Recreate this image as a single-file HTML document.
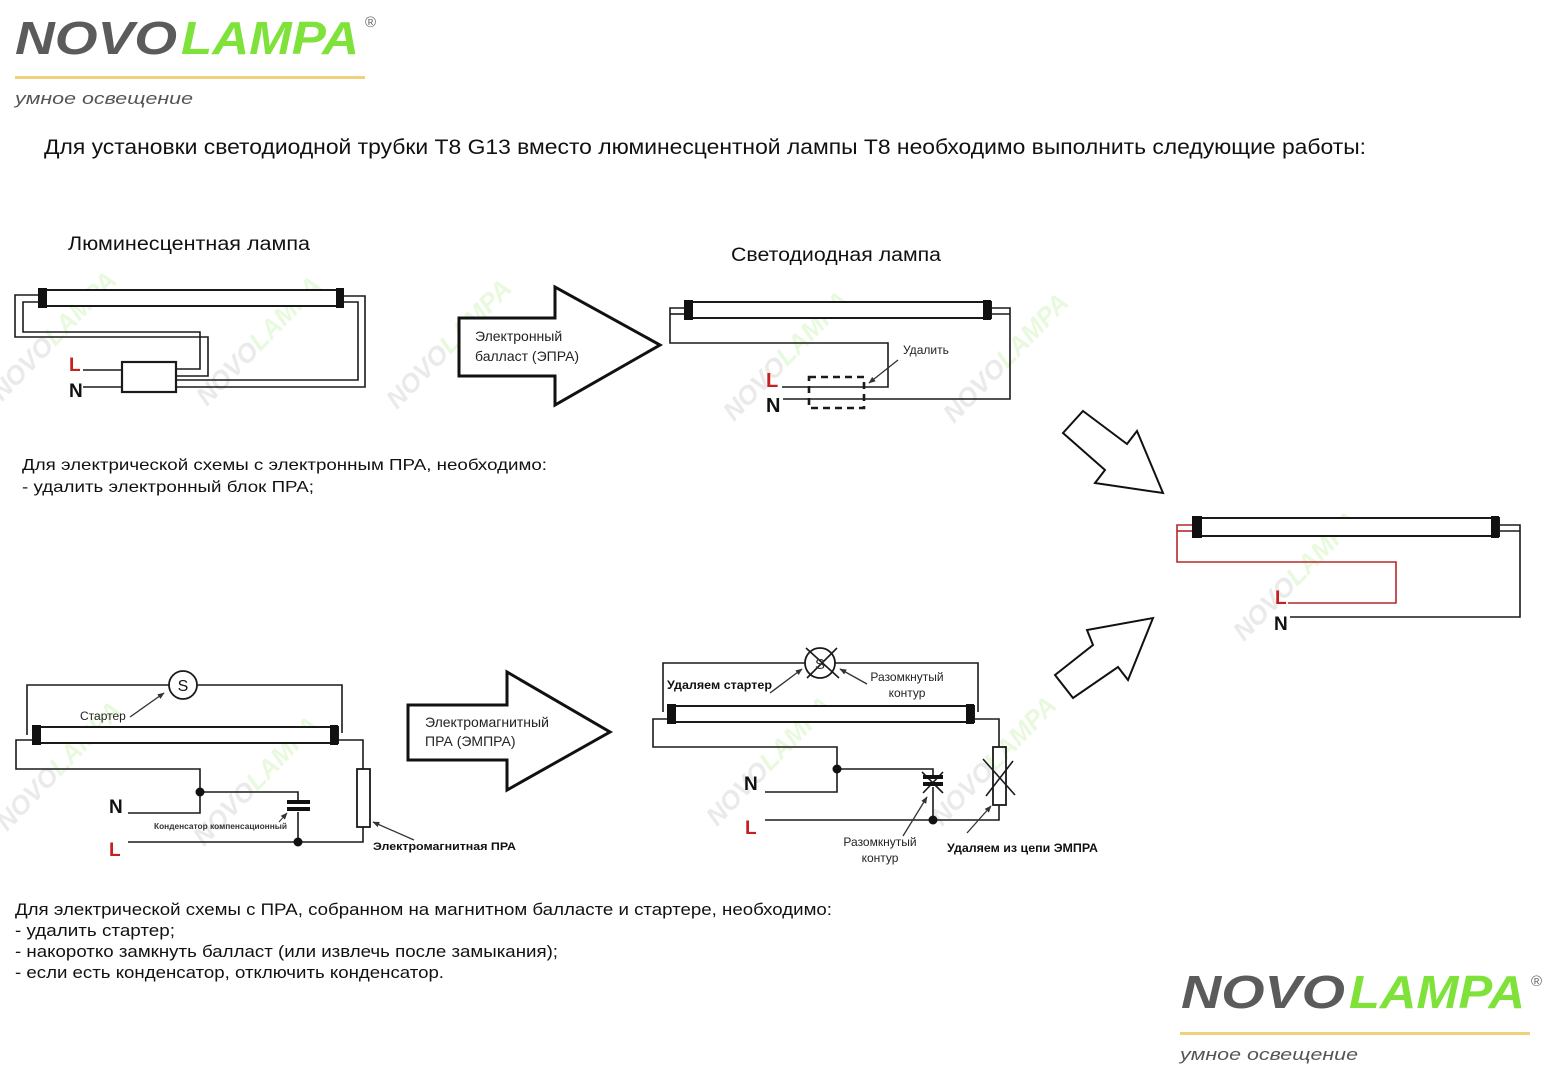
<!DOCTYPE html>
<html><head><meta charset="utf-8"><style>
html,body{margin:0;padding:0;background:#fff;}
svg{display:block;}
text{font-family:"Liberation Sans",Arial,sans-serif;}
</style></head><body>
<svg width="1548" height="1091" viewBox="0 0 1548 1091" xmlns="http://www.w3.org/2000/svg">
<defs>
<marker id="ah" viewBox="0 0 10 10" refX="9" refY="5" markerWidth="7" markerHeight="7" orient="auto-start-reverse" markerUnits="userSpaceOnUse">
<path d="M0,1 L10,5 L0,9 z" fill="#333"/>
</marker>
</defs>
<rect width="1548" height="1091" fill="#fff"/>

<!-- watermarks -->
<g font-size="26" font-weight="bold" font-style="italic" opacity="0.16" text-anchor="middle">
<g transform="translate(60,342) rotate(-46)"><text><tspan fill="#777">NOVO</tspan><tspan fill="#6fd62a">LAMPA</tspan></text></g>
<g transform="translate(265,347) rotate(-46)"><text><tspan fill="#777">NOVO</tspan><tspan fill="#6fd62a">LAMPA</tspan></text></g>
<g transform="translate(455,350) rotate(-46)"><text><tspan fill="#777">NOVO</tspan><tspan fill="#6fd62a">LAMPA</tspan></text></g>
<g transform="translate(792,362) rotate(-46)"><text><tspan fill="#777">NOVO</tspan><tspan fill="#6fd62a">LAMPA</tspan></text></g>
<g transform="translate(1012,364) rotate(-46)"><text><tspan fill="#777">NOVO</tspan><tspan fill="#6fd62a">LAMPA</tspan></text></g>
<g transform="translate(1302,582) rotate(-46)"><text><tspan fill="#777">NOVO</tspan><tspan fill="#6fd62a">LAMPA</tspan></text></g>
<g transform="translate(65,772) rotate(-46)"><text><tspan fill="#777">NOVO</tspan><tspan fill="#6fd62a">LAMPA</tspan></text></g>
<g transform="translate(262,787) rotate(-46)"><text><tspan fill="#777">NOVO</tspan><tspan fill="#6fd62a">LAMPA</tspan></text></g>
<g transform="translate(775,767) rotate(-46)"><text><tspan fill="#777">NOVO</tspan><tspan fill="#6fd62a">LAMPA</tspan></text></g>
<g transform="translate(1000,767) rotate(-46)"><text><tspan fill="#777">NOVO</tspan><tspan fill="#6fd62a">LAMPA</tspan></text></g>
</g>

<!-- top logo -->
<text x="15" y="54" font-size="46" font-weight="bold" font-style="italic" fill="#5b5b5b" textLength="162" lengthAdjust="spacingAndGlyphs">NOVO</text>
<text x="181" y="54" font-size="46" font-weight="bold" font-style="italic" fill="#7ee23a" textLength="178" lengthAdjust="spacingAndGlyphs">LAMPA</text>
<text x="365" y="27" font-size="15" fill="#666">®</text>
<rect x="15" y="76" width="350" height="3" fill="#f1d27a"/>
<text x="15" y="104" font-size="17" font-style="italic" fill="#555" textLength="178" lengthAdjust="spacingAndGlyphs">умное освещение</text>

<!-- bottom logo -->
<text x="1181" y="1008" font-size="46" font-weight="bold" font-style="italic" fill="#5b5b5b" textLength="164" lengthAdjust="spacingAndGlyphs">NOVO</text>
<text x="1349" y="1008" font-size="46" font-weight="bold" font-style="italic" fill="#7ee23a" textLength="176" lengthAdjust="spacingAndGlyphs">LAMPA</text>
<text x="1531" y="986" font-size="15" fill="#666">®</text>
<rect x="1180" y="1032" width="350" height="3" fill="#f1d27a"/>
<text x="1180" y="1060" font-size="17" font-style="italic" fill="#555" textLength="178" lengthAdjust="spacingAndGlyphs">умное освещение</text>

<!-- title -->
<text x="44" y="154" font-size="21" fill="#111" textLength="1322" lengthAdjust="spacingAndGlyphs">Для установки светодиодной трубки T8 G13 вместо люминесцентной лампы T8 необходимо выполнить следующие работы:</text>

<!-- headings -->
<text x="68" y="250" font-size="19" fill="#111" textLength="242" lengthAdjust="spacingAndGlyphs">Люминесцентная лампа</text>
<text x="731" y="261" font-size="19" fill="#111" textLength="210" lengthAdjust="spacingAndGlyphs">Светодиодная лампа</text>

<!-- paragraph 1 -->
<text x="22" y="470" font-size="16" fill="#111" textLength="525" lengthAdjust="spacingAndGlyphs">Для электрической схемы с электронным ПРА, необходимо:</text>
<text x="22" y="492" font-size="16" fill="#111" textLength="292" lengthAdjust="spacingAndGlyphs">- удалить электронный блок ПРА;</text>

<!-- paragraph 2 -->
<text x="15" y="915" font-size="17" fill="#111" textLength="817" lengthAdjust="spacingAndGlyphs">Для электрической схемы с ПРА, собранном на магнитном балласте и стартере, необходимо:</text>
<text x="15" y="936" font-size="17" fill="#111" textLength="160" lengthAdjust="spacingAndGlyphs">- удалить стартер;</text>
<text x="15" y="957" font-size="17" fill="#111" textLength="543" lengthAdjust="spacingAndGlyphs">- накоротко замкнуть балласт (или извлечь после замыкания);</text>
<text x="15" y="978" font-size="17" fill="#111" textLength="429" lengthAdjust="spacingAndGlyphs">- если есть конденсатор, отключить конденсатор.</text>

<!-- ========== top-left diagram ========== -->
<g fill="none" stroke="#1a1a1a" stroke-width="1.6">
<rect x="40" y="290" width="303" height="16" stroke-width="2" fill="#fff"/>
<polyline points="39,295 15,295 15,337 208,337 208,376 176,376"/>
<polyline points="39,302 23,302 23,332 200,332 200,369 176,369"/>
<polyline points="344,296 365,296 365,387 176,387"/>
<polyline points="344,302 358,302 358,380 176,380"/>
<rect x="122" y="362" width="54" height="30" stroke-width="2.2"/>
<line x1="83" y1="370" x2="122" y2="370"/>
<line x1="83" y1="387" x2="122" y2="387"/>
</g>
<rect x="38" y="288" width="9" height="20" fill="#111"/>
<rect x="336" y="288" width="8" height="20" fill="#111"/>
<text x="69" y="371" font-size="19" font-weight="bold" fill="#c42020">L</text>
<text x="69" y="397" font-size="19" font-weight="bold" fill="#111">N</text>

<!-- big arrow top -->
<polygon points="459,318 555,318 555,287 660,345 555,405 555,376 459,376" fill="#fff" stroke="#111" stroke-width="3" stroke-linejoin="miter"/>
<text x="475" y="341" font-size="14" fill="#222">Электронный</text>
<text x="475" y="361" font-size="14" fill="#222">балласт (ЭПРА)</text>

<!-- ========== top-middle diagram ========== -->
<g fill="none" stroke="#1a1a1a" stroke-width="1.6">
<rect x="686" y="302" width="305" height="16" stroke-width="2" fill="#fff"/>
<polyline points="685,308 670,308 670,343 888,343 888,387 782,387"/>
<polyline points="685,314 670,314"/>
<polyline points="991,308 1010,308 1010,399 783,399"/>
<polyline points="991,314 1010,314"/>
<rect x="809" y="377" width="55" height="31" stroke-width="2.6" stroke-dasharray="7,5"/>
<line x1="898" y1="360" x2="869" y2="383" stroke="#333" stroke-width="1.3" marker-end="url(#ah)"/>
</g>
<rect x="684" y="300" width="9" height="20" fill="#111"/>
<rect x="983" y="300" width="8" height="20" fill="#111"/>
<text x="903" y="354" font-size="12" fill="#222">Удалить</text>
<text x="766" y="387" font-size="20" font-weight="bold" fill="#c42020">L</text>
<text x="766" y="412" font-size="20" font-weight="bold" fill="#111">N</text>

<!-- ========== right diagram ========== -->
<polygon points="1083,411 1127,444 1137,431 1163,493 1095,483 1105,470 1063,433" fill="#fff" stroke="#111" stroke-width="2"/>
<polygon points="1153,618 1128,680 1118,667 1073,698 1055,675 1093,645 1087,630" fill="#fff" stroke="#111" stroke-width="2"/>
<rect x="1194" y="518" width="305" height="18" fill="#fff" stroke="#1a1a1a" stroke-width="2"/>
<g fill="none" stroke="#b52a2a" stroke-width="1.6">
<polyline points="1193,525 1177,525 1177,562 1396,562 1396,603 1288,603"/>
<polyline points="1193,531 1177,531"/>
</g>
<g fill="none" stroke="#1a1a1a" stroke-width="1.6">
<polyline points="1499,525 1520,525 1520,617 1290,617"/>
<polyline points="1499,531 1520,531"/>
</g>
<rect x="1192" y="516" width="10" height="22" fill="#111"/>
<rect x="1491" y="516" width="8" height="22" fill="#111"/>
<text x="1275" y="604" font-size="19" font-weight="bold" fill="#c42020">L</text>
<text x="1274" y="630" font-size="19" font-weight="bold" fill="#111">N</text>

<!-- ========== bottom-left diagram ========== -->
<g fill="none" stroke="#1a1a1a" stroke-width="1.6">
<polyline points="27,735 27,685 169,685"/>
<polyline points="197,685 342,685 342,733"/>
<circle cx="183" cy="685" r="14" stroke-width="1.8" fill="#fff"/>
<rect x="34" y="727" width="304" height="16" stroke-width="2" fill="#fff"/>
<polyline points="33,740 16,740 16,769 200,769 200,813 128,813"/>
<polyline points="200,792 298,792 298,803"/>
<polyline points="298,812 298,842"/>
<polyline points="128,842 363,842 363,827"/>
<polyline points="338,740 363,740 363,769"/>
<rect x="357" y="769" width="13" height="58" stroke-width="1.8"/>
<line x1="130" y1="717" x2="164" y2="693" stroke="#333" stroke-width="1.3" marker-end="url(#ah)"/>
<line x1="279" y1="822" x2="287" y2="813" stroke="#333" stroke-width="1" marker-end="url(#ah)"/>
<line x1="414" y1="840" x2="373" y2="822" stroke="#333" stroke-width="1.3" marker-end="url(#ah)"/>
</g>
<rect x="32" y="725" width="9" height="20" fill="#111"/>
<rect x="330" y="725" width="8" height="20" fill="#111"/>
<rect x="287" y="800" width="23" height="4" fill="#111"/>
<rect x="287" y="807" width="23" height="4" fill="#111"/>
<circle cx="200" cy="792" r="4.5" fill="#111"/>
<circle cx="298" cy="842" r="4.5" fill="#111"/>
<text x="183" y="691" font-size="16" fill="#111" text-anchor="middle">S</text>
<text x="80" y="720" font-size="12" fill="#222">Стартер</text>
<text x="154" y="829" font-size="8" font-weight="bold" fill="#333" textLength="133" lengthAdjust="spacingAndGlyphs">Конденсатор компенсационный</text>
<text x="373" y="850" font-size="11" font-weight="bold" fill="#111" textLength="143" lengthAdjust="spacingAndGlyphs">Электромагнитная ПРА</text>
<text x="109" y="813" font-size="19" font-weight="bold" fill="#111">N</text>
<text x="109" y="856" font-size="19" font-weight="bold" fill="#c42020">L</text>

<!-- big arrow bottom -->
<polygon points="408,705 507,705 507,672 610,732 507,790 507,760 408,760" fill="#fff" stroke="#111" stroke-width="3"/>
<text x="425" y="727" font-size="14" fill="#222">Электромагнитный</text>
<text x="425" y="746" font-size="14" fill="#222">ПРА (ЭМПРА)</text>

<!-- ========== bottom-middle diagram ========== -->
<g fill="none" stroke="#1a1a1a" stroke-width="1.6">
<polyline points="663,712 663,663 805,663"/>
<polyline points="835,663 978,663 978,712"/>
<circle cx="820" cy="663" r="15" stroke-width="1.8" fill="#fff"/>
<line x1="806" y1="648" x2="839" y2="678"/>
<line x1="837" y1="648" x2="807" y2="678"/>
<rect x="669" y="706" width="305" height="16" stroke-width="2" fill="#fff"/>
<polyline points="668,719 653,719 653,747 837,747 837,792 765,792"/>
<polyline points="837,769 933,769 933,776"/>
<polyline points="933,787 933,820"/>
<polyline points="765,820 999,820 999,805"/>
<polyline points="974,719 999,719 999,747"/>
<rect x="993" y="747" width="13" height="58" stroke-width="1.8"/>
<line x1="922" y1="772" x2="943" y2="793"/>
<line x1="943" y1="772" x2="923" y2="793"/>
<line x1="983" y1="759" x2="1015" y2="795"/>
<line x1="1013" y1="761" x2="986" y2="796"/>
<line x1="770" y1="693" x2="802" y2="669" stroke="#333" stroke-width="1.3" marker-end="url(#ah)"/>
<line x1="867" y1="684" x2="840" y2="669" stroke="#333" stroke-width="1.3" marker-end="url(#ah)"/>
<line x1="903" y1="836" x2="927" y2="797" stroke="#333" stroke-width="1.3" marker-end="url(#ah)"/>
<line x1="967" y1="833" x2="991" y2="806" stroke="#333" stroke-width="1.3" marker-end="url(#ah)"/>
</g>
<rect x="667" y="704" width="9" height="20" fill="#111"/>
<rect x="966" y="704" width="8" height="20" fill="#111"/>
<rect x="923" y="775" width="20" height="4" fill="#111"/>
<rect x="923" y="782" width="20" height="4" fill="#111"/>
<circle cx="837" cy="769" r="4.5" fill="#111"/>
<circle cx="933" cy="820" r="4.5" fill="#111"/>
<text x="820" y="669" font-size="15" fill="#333" text-anchor="middle">S</text>
<text x="667" y="689" font-size="12" font-weight="bold" fill="#111" textLength="105" lengthAdjust="spacingAndGlyphs">Удаляем стартер</text>
<text x="907" y="681" font-size="12" fill="#222" text-anchor="middle">Разомкнутый</text>
<text x="907" y="697" font-size="12" fill="#222" text-anchor="middle">контур</text>
<text x="880" y="846" font-size="12" fill="#222" text-anchor="middle">Разомкнутый</text>
<text x="880" y="862" font-size="12" fill="#222" text-anchor="middle">контур</text>
<text x="947" y="852" font-size="12" font-weight="bold" fill="#111" textLength="151" lengthAdjust="spacingAndGlyphs">Удаляем из цепи ЭМПРА</text>
<text x="744" y="790" font-size="19" font-weight="bold" fill="#111">N</text>
<text x="745" y="834" font-size="19" font-weight="bold" fill="#c42020">L</text>
</svg>
</body></html>
